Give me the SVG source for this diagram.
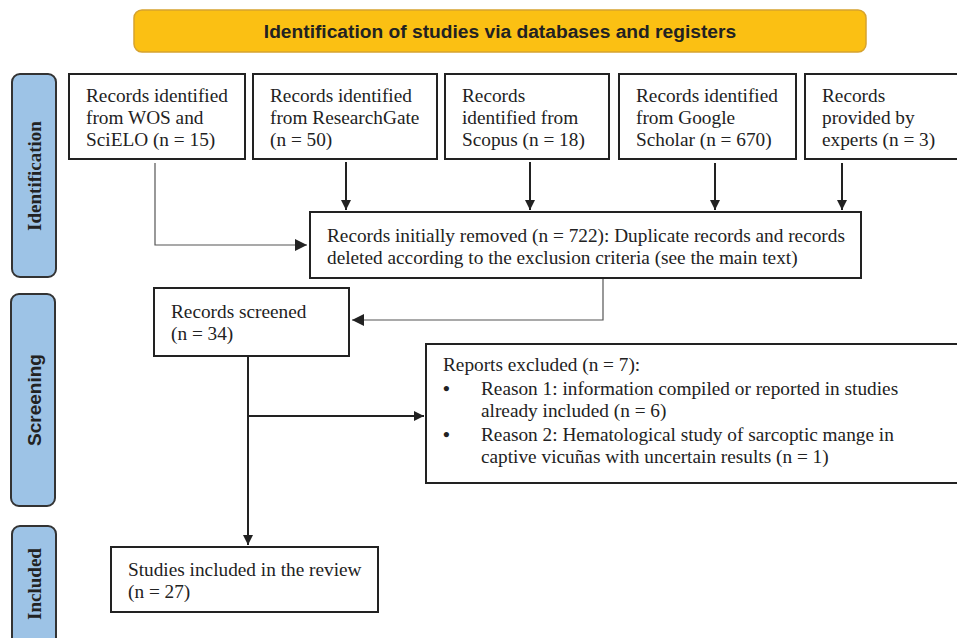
<svg xmlns="http://www.w3.org/2000/svg" width="957" height="638" viewBox="0 0 957 638">
<style>
.box{fill:#fff;stroke:#222;stroke-width:2}
.side{fill:#9dc3e6;stroke:#333;stroke-width:2}
.t{font-family:"Liberation Serif","Times New Roman",serif;font-size:19.3px;fill:#222}
.sb{font-family:"Liberation Serif","Times New Roman",serif;font-size:19px;font-weight:bold;fill:#222}
.ss{font-family:"Liberation Sans",Arial,sans-serif;font-size:19px;font-weight:bold;fill:#222}
.hd{font-family:"Liberation Sans",Arial,sans-serif;font-size:19.2px;font-weight:bold;fill:#222}
.c{fill:none;stroke:#222;stroke-width:2}
.cl{fill:none;stroke:#555;stroke-width:1.2}
</style>
<defs>
<marker id="ah" viewBox="0 0 10 10" refX="10" refY="5" markerWidth="10" markerHeight="10" markerUnits="userSpaceOnUse" orient="auto">
<path d="M0,0 L10,5 L0,10 Z" fill="#222"/>
</marker>
<marker id="ahl" viewBox="0 0 10 10" refX="10" refY="5" markerWidth="12" markerHeight="12" markerUnits="userSpaceOnUse" orient="auto">
<path d="M0,0 L10,5 L0,10 Z" fill="#222"/>
</marker>
</defs>
<rect width="957" height="638" fill="#fff"/>

<g id="header">
<rect x="134" y="10" width="732" height="42" rx="8" fill="#fbc013" stroke="#d6a22f" stroke-width="1.5"/>
<text class="hd" x="500" y="38" text-anchor="middle">Identification of studies via databases and registers</text>
</g>

<g id="side-identification">
<rect class="side" x="12" y="74" width="44" height="203" rx="8"/>
<text class="sb" transform="translate(41,176) rotate(-90)" text-anchor="middle">Identification</text>
</g>
<g id="side-screening">
<rect class="side" x="11" y="294" width="44" height="212" rx="8"/>
<text class="ss" transform="translate(41,400) rotate(-90)" text-anchor="middle">Screening</text>
</g>
<g id="side-included">
<rect class="side" x="12" y="526" width="44" height="130" rx="8"/>
<text class="sb" transform="translate(41,584) rotate(-90)" text-anchor="middle">Included</text>
</g>

<g id="wos">
<rect class="box" x="69" y="74" width="176" height="85"/>
<text class="t" x="86" y="102">Records identified</text>
<text class="t" x="86" y="124">from WOS and</text>
<text class="t" x="86" y="146">SciELO (n = 15)</text>
</g>
<g id="researchgate">
<rect class="box" x="253" y="74" width="184" height="85"/>
<text class="t" x="270" y="102">Records identified</text>
<text class="t" x="270" y="124">from ResearchGate</text>
<text class="t" x="270" y="146">(n = 50)</text>
</g>
<g id="scopus">
<rect class="box" x="445" y="74" width="164" height="85"/>
<text class="t" x="462" y="102">Records</text>
<text class="t" x="462" y="124">identified from</text>
<text class="t" x="462" y="146">Scopus (n = 18)</text>
</g>
<g id="scholar">
<rect class="box" x="619" y="74" width="177" height="85"/>
<text class="t" x="636" y="102">Records identified</text>
<text class="t" x="636" y="124">from Google</text>
<text class="t" x="636" y="146">Scholar (n = 670)</text>
</g>
<g id="experts">
<rect class="box" x="805" y="74" width="160" height="85"/>
<text class="t" x="822" y="102">Records</text>
<text class="t" x="822" y="124">provided by</text>
<text class="t" x="822" y="146">experts (n = 3)</text>
</g>

<g id="removed">
<rect class="box" x="310" y="212" width="551" height="66"/>
<text class="t" x="327" y="242">Records initially removed (n = 722): Duplicate records and records</text>
<text class="t" x="327" y="264">deleted according to the exclusion criteria (see the main text)</text>
</g>

<g id="screened">
<rect class="box" x="154" y="288" width="195" height="68"/>
<text class="t" x="171" y="318">Records screened</text>
<text class="t" x="171" y="340">(n = 34)</text>
</g>

<g id="excluded">
<rect class="box" x="426" y="344" width="540" height="139"/>
<text class="t" x="443" y="371">Reports excluded (n = 7):</text>
<text class="t" x="443" y="395" font-weight="bold">•</text>
<text class="t" x="481" y="395">Reason 1: information compiled or reported in studies</text>
<text class="t" x="481" y="417">already included (n = 6)</text>
<text class="t" x="443" y="441" font-weight="bold">•</text>
<text class="t" x="481" y="441">Reason 2: Hematological study of sarcoptic mange in</text>
<text class="t" x="481" y="463">captive vicuñas with uncertain results (n = 1)</text>
</g>

<g id="included">
<rect class="box" x="111" y="547" width="267" height="65"/>
<text class="t" x="128" y="576">Studies included in the review</text>
<text class="t" x="128" y="598">(n = 27)</text>
</g>

<g id="connectors">
<path class="c" d="M346,162 V210" marker-end="url(#ah)"/>
<path class="c" d="M530,162 V210" marker-end="url(#ah)"/>
<path class="c" d="M715,163 V210" marker-end="url(#ah)"/>
<path class="c" d="M842,163 V210" marker-end="url(#ah)"/>
<path class="cl" d="M155,163 V245 H307" marker-end="url(#ahl)"/>
<path class="cl" d="M603,279 V320 H352" marker-end="url(#ahl)"/>
<path class="c" d="M248,357 V545" marker-end="url(#ah)"/>
<path class="c" d="M248,416 H424" marker-end="url(#ah)"/>
</g>
</svg>
